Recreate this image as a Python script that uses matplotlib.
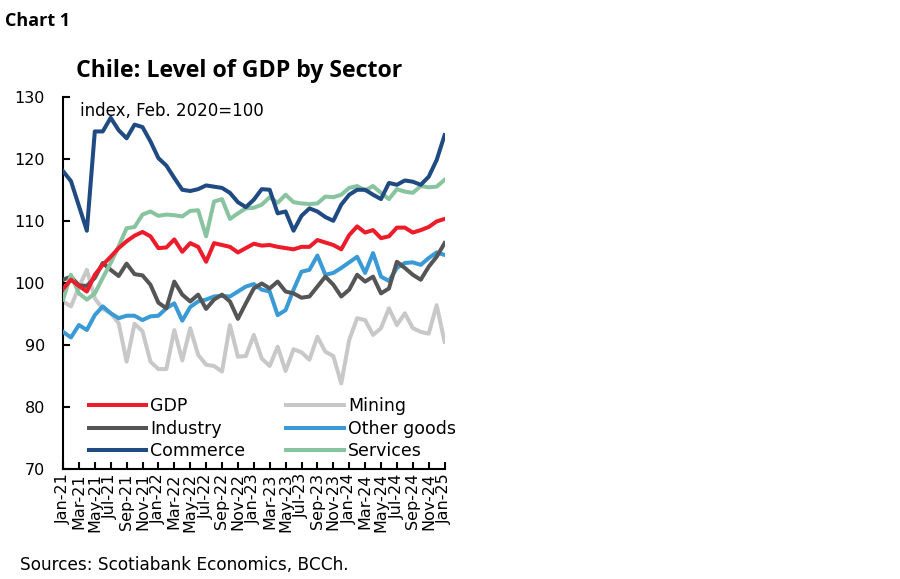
import numpy as np
import pandas as pd
import matplotlib
matplotlib.use("Agg")
import matplotlib.pyplot as plt

plt.rcParams['font.family'] = ['DejaVu Sans']
BOLD = ['Open Sans', 'DejaVu Sans']

months = pd.date_range("2021-01-01", periods=49, freq="MS")
month_labels = [m.strftime("%b-%y") for m in months]

gdp = [99.0, 100.5, 99.5, 98.6, 101.3, 102.9, 104.2, 105.6, 106.7, 107.6,
       108.2, 107.5, 105.6, 105.7, 107.0, 105.0, 106.4, 105.8, 103.4, 106.4,
       106.1, 105.8, 104.9, 105.6, 106.3, 106.0, 106.1, 105.8, 105.6, 105.4,
       105.8, 105.8, 106.9, 106.5, 106.1, 105.4, 107.7, 109.1, 108.1, 108.5,
       107.2, 107.5, 108.9, 108.9, 108.1, 108.5, 109.0, 109.9, 110.3]

industry = [100.5, 101.0, 99.6, 99.5, 100.8, 103.2, 102.1, 101.1, 103.1, 101.4,
            101.2, 99.7, 96.8, 95.9, 100.2, 98.1, 97.0, 98.1, 95.8, 97.3,
            98.1, 97.0, 94.2, 96.7, 99.1, 99.9, 99.1, 100.2, 98.6, 98.3,
            97.6, 97.8, 99.4, 101.0, 99.7, 97.8, 98.9, 101.3, 100.2, 101.0,
            98.3, 99.1, 103.4, 102.4, 101.3, 100.5, 102.6, 104.2, 106.4]

commerce = [118.0, 116.4, 112.4, 108.4, 124.4, 124.4, 126.6, 124.6, 123.3, 125.5,
            125.1, 122.8, 120.1, 118.9, 116.9, 115.0, 114.8, 115.1, 115.7, 115.5,
            115.3, 114.5, 113.0, 112.2, 113.4, 115.1, 115.0, 111.2, 111.5, 108.4,
            110.8, 112.0, 111.5, 110.6, 110.0, 112.6, 114.2, 115.0, 115.0, 114.2,
            113.5, 116.1, 115.8, 116.5, 116.3, 115.8, 117.1, 119.8, 123.8]

mining = [97.0, 96.2, 99.3, 102.1, 97.5, 95.8, 95.1, 93.5, 87.3, 93.4,
          92.2, 87.3, 86.1, 86.1, 92.4, 87.5, 92.7, 88.4, 86.8, 86.6,
          85.7, 93.2, 88.1, 88.2, 91.6, 87.8, 86.6, 89.7, 85.8, 89.3,
          88.8, 87.6, 91.3, 88.9, 88.2, 83.8, 90.8, 94.3, 94.0, 91.6,
          92.7, 95.9, 93.2, 95.1, 92.7, 92.1, 91.8, 96.4, 90.5]

other_goods = [92.1, 91.2, 93.2, 92.4, 94.8, 96.2, 95.1, 94.3, 94.7, 94.7,
               94.0, 94.6, 94.7, 95.9, 96.7, 93.9, 96.1, 97.0, 97.3, 97.8,
               97.9, 97.8, 98.6, 99.4, 99.8, 98.9, 98.6, 94.8, 95.6, 98.9,
               101.8, 102.1, 104.4, 101.3, 101.6, 102.4, 103.3, 104.2, 101.6, 104.8,
               101.0, 100.3, 102.4, 103.2, 103.3, 102.9, 104.0, 104.9, 104.5]

services = [97.3, 101.3, 98.3, 97.3, 98.3, 100.8, 103.2, 105.9, 108.8, 109.0,
            111.0, 111.5, 110.8, 111.0, 110.9, 110.7, 111.6, 111.7, 107.5, 113.1,
            113.5, 110.3, 111.2, 112.0, 112.1, 112.6, 113.8, 112.9, 114.2, 113.0,
            112.8, 112.7, 112.8, 113.9, 113.8, 114.2, 115.3, 115.6, 114.9, 115.6,
            114.5, 113.5, 115.1, 114.7, 114.5, 115.6, 115.4, 115.5, 116.6]

x = np.arange(len(months))

fig = plt.figure(figsize=(9, 5.79), dpi=100)
ax = fig.add_axes([0.070, 0.190, 0.424, 0.643])

ax.plot(x, mining, color="#c8c8c8", lw=2.9, label="Mining", zorder=2)
ax.plot(x, other_goods, color="#3a9ad6", lw=2.9, label="Other goods", zorder=3)
ax.plot(x, industry, color="#555555", lw=2.9, label="Industry", zorder=4)
ax.plot(x, services, color="#88c4a0", lw=2.9, label="Services", zorder=5)
ax.plot(x, gdp, color="#ec1c2b", lw=2.9, label="GDP", zorder=6)
ax.plot(x, commerce, color="#1f4a82", lw=2.9, label="Commerce", zorder=7)

ax.set_xlim(0, len(months) - 1)
ax.set_ylim(70, 130)
ax.set_yticks(np.arange(70, 131, 10))
ax.set_xticks(x[::2])
ax.set_xticklabels(month_labels[::2], rotation=90, fontsize=11.5)
ax.tick_params(axis="y", labelsize=11.5, direction="in", length=5, width=1.5, pad=13)
ax.tick_params(axis="x", direction="in", length=5, width=1.5, pad=3)
for s in ["top", "right"]:
    ax.spines[s].set_visible(False)
for s in ["left", "bottom"]:
    ax.spines[s].set_linewidth(1.5)

handles, labels = ax.get_legend_handles_labels()
order = ["GDP", "Industry", "Commerce", "Mining", "Other goods", "Services"]
hmap = dict(zip(labels, handles))
ax.legend([hmap[k] for k in order], order, ncol=2, loc="lower left",
          bbox_to_anchor=(0.045, 0.0), frameon=False, fontsize=12.5,
          handlelength=3.3, handletextpad=0.25, columnspacing=2.35,
          labelspacing=0.26, borderaxespad=0.1)

ax.text(0.045, 0.985, "index, Feb. 2020=100", transform=ax.transAxes,
        fontsize=12, va="top", ha="left")

fig.text(0.085, 0.877, "Chile: Level of GDP by Sector", fontsize=16.7,
         fontweight="bold", ha="left", va="center", family=BOLD)
fig.text(0.006, 0.964, "Chart 1", fontsize=13, fontweight="bold",
         ha="left", va="center", family=BOLD)
fig.text(0.022, 0.024, "Sources: Scotiabank Economics, BCCh.", fontsize=12.2,
         ha="left", va="center")

fig.savefig("out.png", dpi=100)
